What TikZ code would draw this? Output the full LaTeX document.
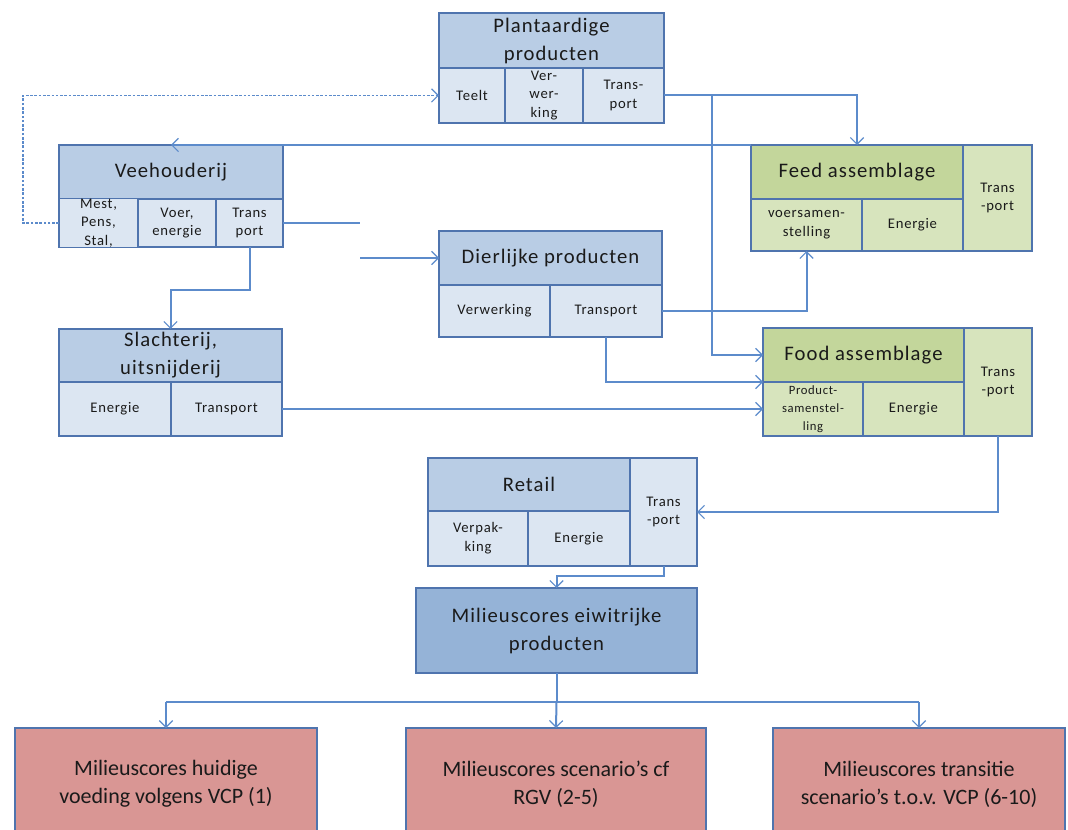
\documentclass[tikz,border=0pt]{standalone}
\usepackage{fontspec}
\setmainfont{Carlito}[LetterSpace=5]
\newfontfamily\plainf{Carlito}
\usetikzlibrary{arrows.meta}
\definecolor{hblue}{HTML}{B9CDE5}
\definecolor{cblue}{HTML}{DCE6F2}
\definecolor{mblue}{HTML}{95B3D7}
\definecolor{hgreen}{HTML}{C3D69B}
\definecolor{cgreen}{HTML}{D7E4BD}
\definecolor{pinkc}{HTML}{D99694}
\definecolor{bordc}{HTML}{4F74AE}
\definecolor{linec}{HTML}{5C8BCB}
\definecolor{txt}{HTML}{1A1A1A}
\newcommand\cellbox[7]{%
  \node[#6, minimum width={(#4-#2)*0.75pt}, minimum height={(#5-#3)*0.75pt}] (#1) at ({(#2+#4)/2},{(#3+#5)/2}) {#7};}
\tikzset{
  cellbase/.style={draw=bordc, line width=1.1pt, inner sep=0pt, outer sep=0pt, align=center, text=txt},
  hb/.style={cellbase, fill=hblue, font=\fontsize{15.5}{21}\selectfont},
  cb/.style={cellbase, fill=cblue, font=\fontsize{11}{14}\selectfont},
  hg/.style={cellbase, fill=hgreen, font=\fontsize{15.5}{21}\selectfont},
  cg/.style={cellbase, fill=cgreen, font=\fontsize{11}{14}\selectfont},
  mb/.style={cellbase, fill=mblue, font=\fontsize{15.5}{21}\selectfont},
  pk/.style={cellbase, fill=pinkc, font=\plainf\fontsize{16.5}{21}\selectfont},
  conn/.style={draw=linec, line width=1.5pt},
  arr/.style={conn, -{Straight Barb[length=5pt,width=10pt,line width=0.9pt]}},
  dashconn/.style={conn, line width=1.3pt, dash pattern=on 2pt off 1.2pt}
}
\begin{document}
\begin{tikzpicture}[x=0.75pt,y=-0.75pt]
\useasboundingbox (0,0) rectangle (1068,830);
\clip (0,0) rectangle (1068,830);
% Plantaardige producten
\cellbox{pH}{439}{13}{664}{68}{hb}{Plantaardige\\producten}
\cellbox{pTeelt}{439}{68}{505}{123}{cb}{Teelt}
\cellbox{pV}{505}{68}{583}{123}{cb}{Ver-\\wer-\\king}
\cellbox{pT}{583}{68}{664}{123}{cb}{Trans-\\port}
% Veehouderij
\cellbox{vH}{59}{145}{283}{199}{hb}{Veehouderij}
\cellbox{vMest}{59}{199}{138}{247}{cb}{Mest,\\Pens,\\Stal,}
\cellbox{vVoer}{138}{199}{216}{247}{cb}{Voer,\\energie}
\cellbox{vT}{216}{199}{283}{247}{cb}{Trans\\port}
% Feed assemblage
\cellbox{fH}{751}{145}{963}{199}{hg}{Feed assemblage}
\cellbox{fV}{751}{199}{862}{251}{cg}{voersamen-\\stelling}
\cellbox{fE}{862}{199}{963}{251}{cg}{Energie}
\cellbox{fT}{963}{145}{1032}{251}{cg}{Trans\\-port}
% Dierlijke producten
\cellbox{dH}{439}{231}{662}{285}{hb}{Dierlijke producten}
\cellbox{dV}{439}{285}{550}{337}{cb}{Verwerking}
\cellbox{dT}{550}{285}{662}{337}{cb}{Transport}
% Slachterij
\cellbox{sH}{59}{329}{282}{382}{hb}{Slachterij,\\uitsnijderij}
\cellbox{sE}{59}{382}{171}{436}{cb}{Energie}
\cellbox{sT}{171}{382}{282}{436}{cb}{Transport}
% Food assemblage
\cellbox{oH}{763}{328}{964}{382}{hg}{Food assemblage}
\cellbox{oP}{763}{382}{863}{436}{cg,font=\fontsize{9.5}{13.5}\selectfont}{Product-\\samenstel-\\ling}
\cellbox{oE}{863}{382}{964}{436}{cg}{Energie}
\cellbox{oT}{964}{328}{1032}{436}{cg}{Trans\\-port}
% Retail
\cellbox{rH}{428}{458}{630}{511}{hb}{Retail}
\cellbox{rV}{428}{511}{528}{566}{cb}{Verpak-\\king}
\cellbox{rE}{528}{511}{630}{566}{cb}{Energie}
\cellbox{rT}{630}{458}{697}{566}{cb}{Trans\\-port}
% Milieuscores
\cellbox{mil}{416}{588}{697}{673}{mb}{Milieuscores eiwitrijke\\producten}
% bottom boxes
\cellbox{b1}{15}{728}{317}{840}{pk}{Milieuscores huidige\\voeding volgens VCP (1)}
\cellbox{b2}{406}{728}{706}{840}{pk}{Milieuscores scenario’s cf\\RGV (2-5)}
\cellbox{b3}{773}{728}{1065}{840}{pk}{Milieuscores transitie\\scenario’s t.o.v. VCP (6-10)}
% connectors
\coordinate (dL) at (23,223);
\draw[dashconn,-{Straight Barb[length=5pt,width=10pt,line width=0.9pt]}] (vMest.west) -- (dL) |- (pTeelt.west);
\draw[arr] (pT.east) -| (fH.north);
\coordinate (j1) at (712,95.5);
\draw[arr] (j1) |- (oH.west);
\draw[arr] (fH.north west) -- (vH.north);
\coordinate (s1) at (360,223);
\coordinate (s2) at (360,258);
\draw[conn] (vT.east) -- (s1);
\draw[arr] (s2) -- (dH.west);
\draw[arr] (vT.south) -- ++(0,43) -| (sH.north);
\draw[arr] (dT.east) -| (fV.south);
\draw[arr] (dT.south) |- (oH.south west);
\draw[arr] (sT.east) -- (oP.west);
\draw[arr] (oT.south) |- (rT.east);
\draw[arr] (rT.south) -- ++(0,10) -| (mil.north);
\coordinate (bus) at (556.5,702);
\draw[conn] (mil.south) -- (bus);
\draw[conn] (b1.north |- bus) -- (b3.north |- bus);
\draw[arr] (b1.north |- bus) -- (b1.north);
\draw[arr] (bus) -- (b2.north);
\draw[arr] (b3.north |- bus) -- (b3.north);
\end{tikzpicture}
\end{document}
